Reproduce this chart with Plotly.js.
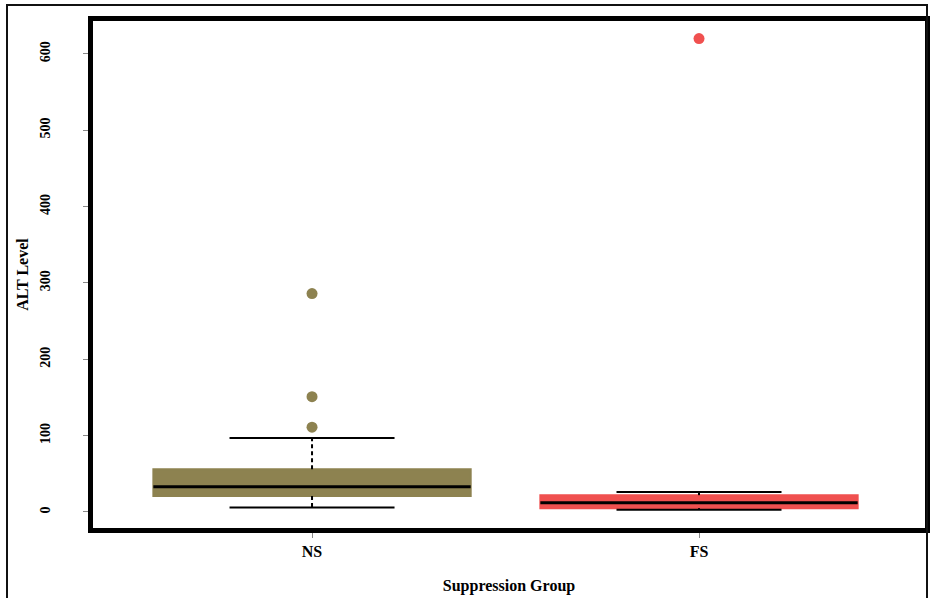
<!DOCTYPE html>
<html>
<head>
<meta charset="utf-8">
<script src="https://cdn.plot.ly/plotly-3.0.1.min.js"></script>
<style>
  html, body { margin: 0; padding: 0; background: #fff; }
  #wrap { position: relative; width: 933px; height: 598px; }
  #chart { width: 933px; height: 598px; }
  #border { position: absolute; left: 6px; top: 4px; width: 922px; height: 600px;
            border: 2px solid #111; pointer-events: none; box-sizing: border-box; }
</style>
</head>
<body>
<div id="wrap">
  <div id="chart"></div>
  <div id="border"></div>
</div>
<script>
// ---- data ----
const groups = ['NS', 'FS'];
const q1 = [21, 5];
const medians = [33, 12];
const q3 = [56, 22];
const lowerWhisker = [6, 3];
const upperWhisker = [97, 26];
const outliersNS = [286, 151, 111];
const outliersFS = [620];
const outliers = [outliersNS, outliersFS];
const fillColors = ['#8D8250', '#F0504F'];

const positions = groups.map((g, i) => i + 1);
const boxWidth = 0.82;
const capHalf = boxWidth * 0.26;
const medHalf = boxWidth / 2;

const traces = [];
groups.forEach((g, i) => {
  const x = positions[i];
  // box body
  traces.push({
    type: 'box',
    name: g,
    x: [x],
    q1: [q1[i]], median: [medians[i]], q3: [q3[i]],
    lowerfence: [q1[i]], upperfence: [q3[i]],
    width: boxWidth,
    fillcolor: fillColors[i],
    line: { color: fillColors[i], width: 2 },
    whiskerwidth: 0,
    hoverinfo: 'skip',
    showlegend: false
  });
  // dashed whiskers
  traces.push({
    type: 'scatter', mode: 'lines',
    x: [x, x, null, x, x],
    y: [q3[i], upperWhisker[i], null, q1[i], lowerWhisker[i]],
    line: { color: '#000', width: 2, dash: '4px,3px' },
    hoverinfo: 'skip', showlegend: false
  });
  // whisker caps
  traces.push({
    type: 'scatter', mode: 'lines',
    x: [x - capHalf, x + capHalf, null, x - capHalf, x + capHalf],
    y: [upperWhisker[i], upperWhisker[i], null, lowerWhisker[i], lowerWhisker[i]],
    line: { color: '#000', width: 2 },
    hoverinfo: 'skip', showlegend: false
  });
  // median
  traces.push({
    type: 'scatter', mode: 'lines',
    x: [x - medHalf, x + medHalf],
    y: [medians[i], medians[i]],
    line: { color: '#000', width: 3 },
    hoverinfo: 'skip', showlegend: false
  });
  // outliers
  traces.push({
    type: 'scatter', mode: 'markers',
    x: outliers[i].map(() => x),
    y: outliers[i],
    marker: { color: fillColors[i], size: 11 },
    showlegend: false
  });
});

const layout = {
  width: 933, height: 598,
  paper_bgcolor: '#fff', plot_bgcolor: '#fff',
  margin: { l: 93, r: 8, t: 21, b: 70 },
  showlegend: false,
  font: { family: 'Liberation Serif, Times New Roman, serif', color: '#000' },
  xaxis: {
    range: [0.434, 2.584],
    tickvals: positions, ticktext: groups,
    ticks: 'outside', ticklen: 5, tickwidth: 1, tickcolor: '#888',
    showline: true, linecolor: '#000', linewidth: 5, mirror: true,
    showgrid: false, zeroline: false,
    tickfont: { size: 16, weight: 'bold' },
    title: { text: 'Suppression Group', font: { size: 16, weight: 'bold' }, standoff: 22 }
  },
  yaxis: {
    range: [-21, 643],
    tickvals: [0, 100, 200, 300, 400, 500, 600],
    tickangle: -90,
    ticks: 'outside', ticklen: 5, tickwidth: 1, tickcolor: '#888',
    showline: true, linecolor: '#000', linewidth: 5, mirror: true,
    showgrid: false, zeroline: false,
    tickfont: { size: 14, color: '#000', weight: 'bold' },
    ticklabelstandoff: 27,
    title: { text: 'ALT Level', font: { size: 16, weight: 'bold' }, standoff: 7 }
  }
};

Plotly.newPlot('chart', traces, layout, { displayModeBar: false, staticPlot: true });
</script>
</body>
</html>
